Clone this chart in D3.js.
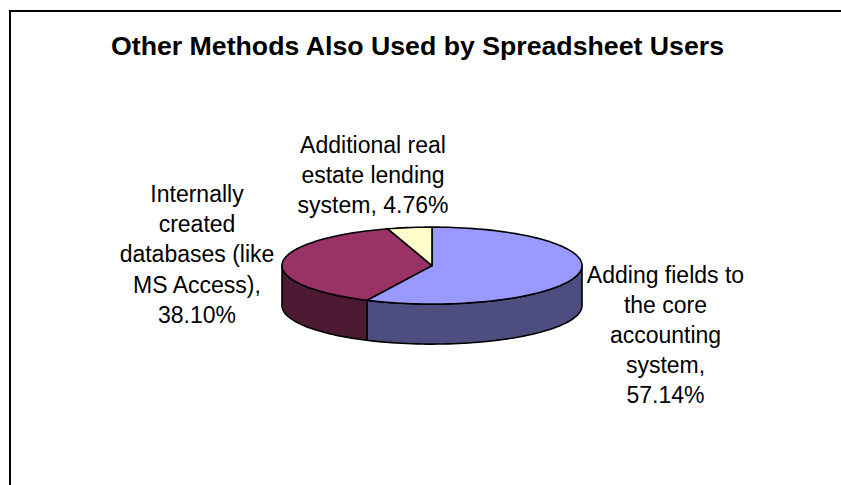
<!DOCTYPE html>
<html>
<head>
<meta charset="utf-8">
<style>
  html, body { margin: 0; padding: 0; background: #fff; }
  svg { display: block; }
  text { font-family: "Liberation Sans", Arial, sans-serif; fill: #000; }
</style>
<script src="https://cdn.jsdelivr.net/npm/d3@7"></script>
</head>
<body>
<svg id="chart" width="841" height="485"></svg>
<script>
const chartTitle = "Other Methods Also Used by Spreadsheet Users";
const categories = ["Adding fields to the core accounting system", "Internally created databases (like MS Access)", "Additional real estate lending system"];
const shares = [57.14, 38.10, 4.76];
const topColors = ["#9999ff", "#993366", "#ffffcc"];
const sideColors = ["#4d4d80", "#4d1a33", "#808066"];
// Line breaks for each slice label; %v stands for the formatted share.
const labelLines = [
  ["Adding fields to", "the core", "accounting", "system,", "%v"],
  ["Internally", "created", "databases (like", "MS Access),", "%v"],
  ["Additional real", "estate lending", "system, %v"]
];

const W = 841, H = 485;
const cx = 432, cy = 265.6, rx = 150, ry = 38.5, depth = 40;
const labelAnchors = [[665.5, 282.5], [197, 202], [373, 153]];
const lineStep = 30.2;

const svg = d3.select("#chart");

// Chart frame: only the top and left edges fall inside the page.
svg.append("rect")
  .attr("x", 10).attr("y", 11)
  .attr("width", W + 20).attr("height", H + 20)
  .attr("fill", "#fff").attr("stroke", "#000").attr("stroke-width", 2);

svg.append("text")
  .attr("x", 417.5).attr("y", 55)
  .attr("text-anchor", "middle")
  .attr("font-size", 26.7).attr("font-weight", "bold")
  .text(chartTitle);

// Slices run clockwise from twelve o'clock, in data order.
const slices = d3.pie().sort(null).startAngle(0).endAngle(2 * Math.PI)(shares);

// Ellipse projection of an angle measured clockwise from the top.
const px = d3.scaleLinear().domain([-1, 1]).range([cx - rx, cx + rx]);
const py = d3.scaleLinear().domain([-1, 1]).range([cy - ry, cy + ry]);
const rim = (a, drop = 0) => [px(Math.sin(a)), py(-Math.cos(a)) + drop];

const steps = (a0, a1) => {
  const n = Math.max(1, Math.ceil((a1 - a0) / (Math.PI / 90)));
  return d3.range(n + 1).map(i => a0 + (a1 - a0) * i / n);
};
const line = d3.line();

// Front wall: only the part of each slice on the lower half of the ellipse.
const g = svg.append("g").attr("stroke", "#000").attr("stroke-width", 1.6).attr("stroke-linejoin", "round");
slices.forEach((s, i) => {
  const a0 = Math.max(s.startAngle, Math.PI / 2);
  const a1 = Math.min(s.endAngle, 3 * Math.PI / 2);
  if (a1 <= a0) return;
  const upper = steps(a0, a1).map(a => rim(a));
  const lower = steps(a0, a1).reverse().map(a => rim(a, depth));
  g.append("path")
    .attr("d", line(upper.concat(lower)) + "Z")
    .attr("fill", sideColors[i]);
});

// Top surface of the pie.
slices.forEach((s, i) => {
  const pts = [[cx, cy]].concat(steps(s.startAngle, s.endAngle).map(a => rim(a)));
  g.append("path")
    .attr("d", line(pts) + "Z")
    .attr("fill", topColors[i]);
});

// Slice labels, centred per line.
const pct = d3.format(".2f");
labelLines.forEach((lines, i) => {
  const t = svg.append("text")
    .attr("aria-label", categories[i])
    .attr("text-anchor", "middle")
    .attr("font-size", 23);
  lines.forEach((ln, j) => {
    t.append("tspan")
      .attr("x", labelAnchors[i][0])
      .attr("y", labelAnchors[i][1] + j * lineStep)
      .text(ln.replace("%v", pct(shares[i]) + "%"));
  });
});
</script>
</body>
</html>
